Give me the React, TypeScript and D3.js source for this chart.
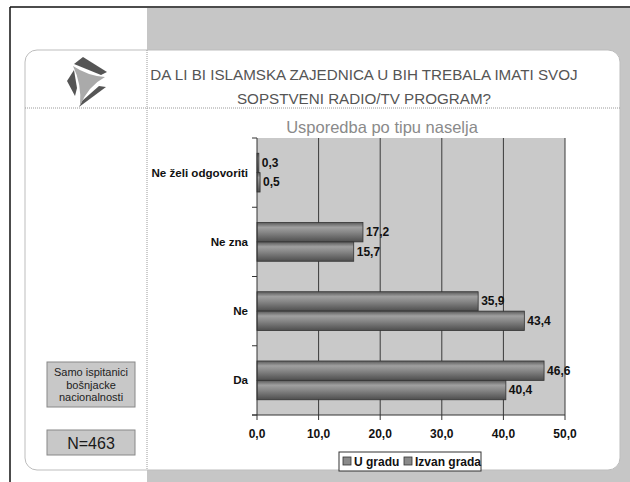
import React from "react";
import * as d3 from "d3";

const categories = ["Ne želi odgovoriti", "Ne zna", "Ne", "Da"];
const seriesNames = ["U gradu", "Izvan grada"];
const uGradu = [0.3, 17.2, 35.9, 46.6];
const izvanGrada = [0.5, 15.7, 43.4, 40.4];
const xTicks = [0, 10, 20, 30, 40, 50];
const titleLines = [
  "DA LI BI ISLAMSKA ZAJEDNICA U BIH TREBALA IMATI SVOJ",
  "SOPSTVENI RADIO/TV PROGRAM?",
];
const chartTitle = "Usporedba po tipu naselja";
const noteLines = ["Samo ispitanici", "bošnjacke", "nacionalnosti"];
const nLabel = "N=463";

const fmt = (v: number) => d3.format(".1f")(v).replace(".", ",");

export default function App() {
  const W = 630, H = 482;
  const plot = { left: 257, right: 565, top: 138, bottom: 415 };
  const x = d3.scaleLinear().domain([0, 50]).range([plot.left, plot.right]);
  const y = d3.scaleBand<string>().domain(categories).range([plot.top, plot.bottom]).paddingInner(0).paddingOuter(0);
  const bw = y.bandwidth();
  const sub = d3.scaleBand<string>().domain(seriesNames).range([bw * 0.22, bw * 0.78]).padding(0);
  const seriesValues = [uGradu, izvanGrada];
  const font = "'Liberation Sans', Arial, sans-serif";
  const boundaries = categories.map((c) => y(c) as number).concat([plot.bottom]);

  return (
    <svg width={W} height={H} style={{ position: "absolute", left: 0, top: 0, background: "#fff" }} fontFamily={font}>
      <defs>
        <linearGradient id="barGrad" x1="0" y1="0" x2="0" y2="1">
          <stop offset="0" stopColor="#5a5a5a" />
          <stop offset="0.25" stopColor="#a0a0a0" />
          <stop offset="0.5" stopColor="#878787" />
          <stop offset="1" stopColor="#4e4e4e" />
        </linearGradient>
      </defs>
      {/* background frame */}
      <rect x={147} y={8} width={W - 147} height={H - 8} fill="#c6c6c6" />
      <line x1={10} y1={7} x2={W} y2={7} stroke="#111" strokeWidth={1.5} />
      <line x1={10} y1={7} x2={10} y2={H} stroke="#111" strokeWidth={1.5} />
      {/* panel */}
      <rect x={25} y={50} width={595} height={420} rx={12} ry={12} fill="#fff" stroke="#bdbdbd" strokeWidth={1} />
      <line x1={25} y1={108} x2={620} y2={108} stroke="#9a9a9a" strokeDasharray="1,1" />
      <line x1={147} y1={50} x2={147} y2={470} stroke="#9a9a9a" strokeDasharray="1,1" />
      {/* logo */}
      <g>
        <polygon points="83,57 107,72 101,75 74,64" fill="#555" />
        <polygon points="67,81 74,70 77,88 75,96" fill="#555" />
        <polygon points="79,107 106,87 99,86 82,101" fill="#555" />
        <path d="M73,66 Q88,76 105,77 Q88,86 80,106 Q82,84 73,66 Z" fill="#aaa" />
      </g>
      {/* titles */}
      {titleLines.map((t, i) => (
        <text key={i} x={364} y={80 + i * 24} textAnchor="middle" fontSize={15.2} fill="#555">
          {t}
        </text>
      ))}
      <text x={382} y={133} textAnchor="middle" fontSize={16.5} fill="#8a8a8a">
        {chartTitle}
      </text>
      {/* left notes */}
      <rect x={47} y={362} width={88} height={45} fill="#c8c8c8" stroke="#888" />
      {noteLines.map((t, i) => (
        <text key={i} x={91} y={376 + i * 12.5} textAnchor="middle" fontSize={11} fill="#222">
          {t}
        </text>
      ))}
      <rect x={47} y={430} width={88} height={25} fill="#c8c8c8" stroke="#888" />
      <text x={91} y={448.5} textAnchor="middle" fontSize={16} fill="#1a1a1a">
        {nLabel}
      </text>
      {/* plot area */}
      <rect x={plot.left} y={plot.top} width={plot.right - plot.left} height={plot.bottom - plot.top} fill="#c9c9c9" />
      {xTicks.slice(1).map((t) => (
        <line key={t} x1={x(t)} x2={x(t)} y1={plot.top} y2={plot.bottom} stroke="#3a3a3a" strokeWidth={1} />
      ))}
      {/* bars */}
      {categories.map((c, ci) =>
        seriesNames.map((s, si) => {
          const v = seriesValues[si][ci];
          const by = (y(c) as number) + (sub(s) as number);
          const bh = sub.bandwidth();
          return (
            <g key={c + s}>
              <rect x={x(0)} y={by} width={Math.max(x(v) - x(0), 1.5)} height={bh} fill="url(#barGrad)" stroke="#333" strokeWidth={0.8} />
              <text x={x(v) + 3} y={by + bh / 2 + 4} fontSize={12} fontWeight="bold" fill="#111">
                {fmt(v)}
              </text>
            </g>
          );
        })
      )}
      {/* axes */}
      <line x1={plot.left} x2={plot.left} y1={plot.top} y2={plot.bottom} stroke="#333" />
      {boundaries.map((b, i) => (
        <line key={i} x1={plot.left - 5} x2={plot.left} y1={b} y2={b} stroke="#333" />
      ))}
      <line x1={plot.left - 5} x2={plot.right} y1={plot.bottom} y2={plot.bottom} stroke="#333" />
      {xTicks.map((t) => (
        <g key={t}>
          <line x1={x(t)} x2={x(t)} y1={plot.bottom} y2={plot.bottom + 5} stroke="#333" />
          <text x={x(t)} y={438} textAnchor="middle" fontSize={12} fontWeight="bold" fill="#111">
            {fmt(t)}
          </text>
        </g>
      ))}
      {categories.map((c) => (
        <text key={c} x={248} y={(y(c) as number) + bw / 2 + 4} textAnchor="end" fontSize={11.6} fontWeight="bold" fill="#111">
          {c}
        </text>
      ))}
      {/* legend */}
      <rect x={339} y={452} width={142} height={19} fill="#fff" stroke="#333" />
      {seriesNames.map((s, i) => {
        const lx = i === 0 ? 343 : 404;
        return (
          <g key={s}>
            <rect x={lx} y={457} width={8} height={8} fill="#8a8a8a" stroke="#333" strokeWidth={0.8} />
            <text x={lx + 11} y={466} fontSize={12} fontWeight="bold" fill="#111">
              {s}
            </text>
          </g>
        );
      })}
    </svg>
  );
}
